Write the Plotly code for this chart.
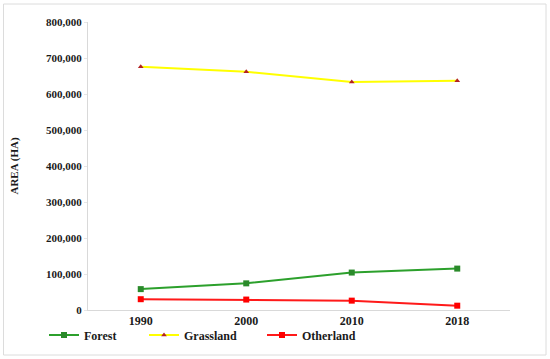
import plotly.graph_objects as go

years = ["1990", "2000", "2010", "2018"]
forest = [58000, 74000, 104000, 115000]
grassland = [676000, 662000, 633000, 637000]
otherland = [30000, 29000, 26000, 12000]
y_ticks = [0, 100000, 200000, 300000, 400000, 500000, 600000, 700000, 800000]
y_tick_text = ["0", "100,000", "200,000", "300,000", "400,000", "500,000", "600,000", "700,000", "800,000"]

FONT = "Liberation Serif"

L, R, T, B = 88, 40, 22, 49
W, H = 550, 359
pw, ph = W - L - R, H - T - B

def px_x(v):
    return (v - L) / pw

def px_y(v):
    return (H - B - v) / ph

fig = go.Figure()
fig.add_trace(go.Scatter(x=years, y=forest, name="Forest", mode="lines+markers",
                         line=dict(color="#2ca02c", width=2),
                         marker=dict(symbol="square", size=6, color="#2a8a2a"),
                         legend="legend"))
fig.add_trace(go.Scatter(x=years, y=grassland, name="Grassland", mode="lines+markers",
                         line=dict(color="#ffff00", width=2),
                         marker=dict(symbol="triangle-up", size=5, color="#b22222"),
                         legend="legend2"))
fig.add_trace(go.Scatter(x=years, y=otherland, name="Otherland", mode="lines+markers",
                         line=dict(color="#ff1a1a", width=2),
                         marker=dict(symbol="square", size=6, color="#ff0000"),
                         legend="legend3"))

leg_font = dict(family=FONT, size=12, color="#1a1a1a", weight="bold")

def leg(xpix):
    return dict(orientation="h", x=px_x(xpix), y=px_y(335), xanchor="left", yanchor="middle",
                font=leg_font, itemwidth=30, bgcolor="rgba(0,0,0,0)")

fig.update_layout(
    width=W, height=H,
    margin=dict(l=L, r=R, t=T, b=B, autoexpand=False),
    paper_bgcolor="white", plot_bgcolor="white",
    font=dict(family=FONT, color="#1a1a1a", size=11),
    showlegend=True,
    legend=leg(44),
    legend2=leg(144),
    legend3=leg(262),
    xaxis=dict(type="category", showgrid=False, showline=True, linecolor="#d9d9d9",
               linewidth=1, ticks="", tickfont=dict(family=FONT, size=12, weight="bold"),
               range=[-0.5, 3.5], zeroline=False, automargin=False),
    yaxis=dict(range=[0, 800000], tickvals=y_ticks, ticktext=y_tick_text,
               showgrid=False, showline=True, linecolor="#d9d9d9", linewidth=1,
               ticks="outside", ticklen=3, tickcolor="#e6e6e6",
               tickfont=dict(family=FONT, size=11, weight="bold"), zeroline=False,
               automargin=False,
               title=dict(text="AREA (HA)", font=dict(family=FONT, size=11, weight="bold"),
                          standoff=25)),
    shapes=[dict(type="rect", xref="paper", yref="paper",
                 x0=px_x(3.5), x1=px_x(546),
                 y0=px_y(355), y1=px_y(4),
                 line=dict(color="#dcdcdc", width=1), layer="below")],
)

fig.write_html("out.html",
               config={"displayModeBar": False},
               post_script="document.body.style.margin='0';document.body.style.overflow='hidden';")
